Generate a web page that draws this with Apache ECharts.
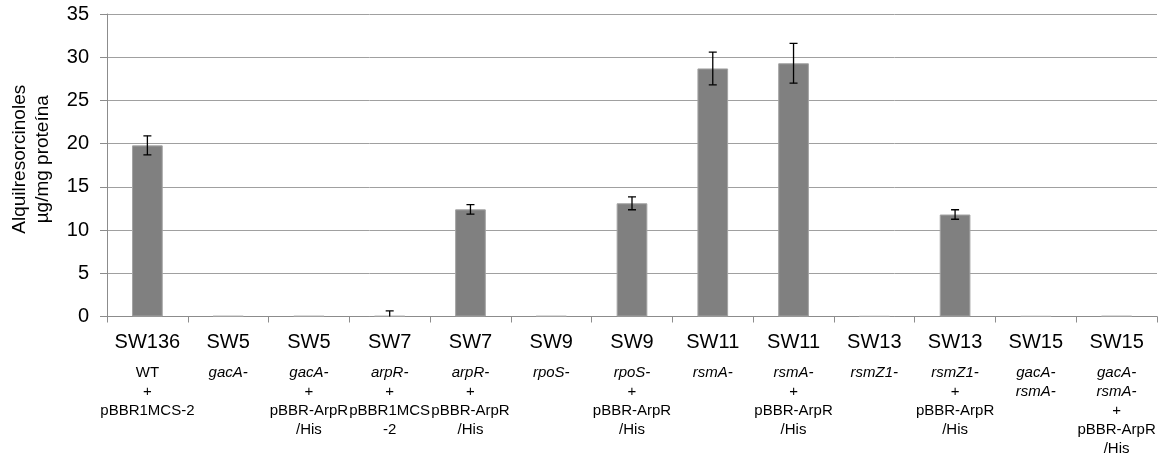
<!DOCTYPE html>
<html>
<head>
<meta charset="utf-8">
<script src="https://cdn.jsdelivr.net/npm/echarts@6/dist/echarts.min.js"></script>
<style>
  html, body { margin: 0; padding: 0; background: #fff; }
  #chart { width: 1163px; height: 454px; }
</style>
</head>
<body>
<div id="chart"></div>
<script>
// Strain names (first label line)
const strains = ['SW136', 'SW5', 'SW5', 'SW7', 'SW7', 'SW9', 'SW9', 'SW11', 'SW11', 'SW13', 'SW13', 'SW15', 'SW15'];
// Genotype lines (italic gene names; WT is upright)
const genotypes = [['WT'], ['gacA-'], ['gacA-'], ['arpR-'], ['arpR-'], ['rpoS-'], ['rpoS-'], ['rsmA-'], ['rsmA-'], ['rsmZ1-'], ['rsmZ1-'], ['gacA-', 'rsmA-'], ['gacA-', 'rsmA-']];
// Complementing plasmid lines (empty when none)
const plasmids = [['pBBR1MCS-2'], [], ['pBBR-ArpR', '/His'], ['pBBR1MCS', '-2'], ['pBBR-ArpR', '/His'], [], ['pBBR-ArpR', '/His'], [], ['pBBR-ArpR', '/His'], [], ['pBBR-ArpR', '/His'], [], ['pBBR-ArpR', '/His']];
// Alkylresorcinols, µg/mg protein
const values = [19.8, 0.05, 0.05, 0.05, 12.4, 0.05, 13.1, 28.7, 29.3, 0.02, 11.8, 0.02, 0.05];
// Standard deviation
const errors = [1.1, 0, 0, 0.6, 0.55, 0, 0.75, 1.9, 2.3, 0, 0.55, 0, 0];
// Y-axis ticks
const yMin = 0, yMax = 35, yStep = 5;

const categories = strains.map((s, i) => String(i));

function labelFor(idx) {
  const i = Number(idx);
  const lines = ['{t|' + strains[i] + '}'];
  genotypes[i].forEach(g => lines.push(g === 'WT' ? '{n|' + g + '}' : '{g|' + g + '}'));
  if (plasmids[i].length) {
    lines.push('{n|+}');
    plasmids[i].forEach(p => lines.push('{n|' + p + '}'));
  }
  return lines.join('\n');
}

const FONT = '"Liberation Sans", Arial, sans-serif';
const chart = echarts.init(document.getElementById('chart'), null, { renderer: 'canvas' });

chart.setOption({
  animation: false,
  backgroundColor: '#ffffff',
  grid: { left: 107, right: 6, top: 14, bottom: 137.5, containLabel: false, outerBoundsMode: 'none' },
  xAxis: {
    type: 'category',
    data: categories,
    boundaryGap: true,
    axisLine: { lineStyle: { color: '#8c8c8c', width: 1 } },
    axisTick: { show: true, length: 6, alignWithLabel: false, lineStyle: { color: '#8c8c8c' } },
    axisLabel: {
      interval: 0,
      margin: 4,
      formatter: labelFor,
      color: '#000',
      fontFamily: FONT,
      rich: {
        t: { fontSize: 20, lineHeight: 43, fontFamily: FONT, color: '#000' },
        g: { fontSize: 15, lineHeight: 19, fontStyle: 'italic', fontFamily: FONT, color: '#000' },
        n: { fontSize: 15, lineHeight: 19, fontFamily: FONT, color: '#000' }
      }
    }
  },
  yAxis: {
    type: 'value',
    min: yMin,
    max: yMax,
    interval: yStep,
    name: '{a|Alquilresorcinoles}\n{a|µg/mg proteína}',
    nameLocation: 'middle',
    nameRotate: 90,
    nameGap: 53,
    nameTextStyle: {
      padding: [0, 0, 0, 12],
      rich: { a: { fontSize: 19, lineHeight: 23, fontFamily: FONT, color: '#000' } }
    },
    axisLine: { show: true, lineStyle: { color: '#8c8c8c', width: 1 } },
    axisTick: { show: true, length: 7, inside: false, lineStyle: { color: '#8c8c8c' } },
    axisLabel: { margin: 18, fontSize: 20, fontFamily: FONT, color: '#000' },
    splitLine: { show: true, lineStyle: { color: '#a0a0a0', width: 1 } }
  },
  series: [
    {
      type: 'bar',
      data: values,
      barWidth: '38%',
      itemStyle: { color: '#808080', borderColor: '#a3a3a3', borderWidth: 1 },
      z: 2
    },
    {
      type: 'custom',
      clip: true,
      z: 3,
      data: values.map((v, i) => [i, v, errors[i]]),
      renderItem: function (params, api) {
        const i = api.value(0), v = api.value(1), e = api.value(2);
        if (!e) return null;
        const top = api.coord([i, v + e]);
        const bot = api.coord([i, v - e]);
        const half = 4;
        const style = { stroke: '#000', lineWidth: 1.3 };
        return {
          type: 'group',
          children: [
            { type: 'line', shape: { x1: top[0], y1: top[1], x2: bot[0], y2: bot[1] }, style: style },
            { type: 'line', shape: { x1: top[0] - half, y1: top[1], x2: top[0] + half, y2: top[1] }, style: style },
            { type: 'line', shape: { x1: bot[0] - half, y1: bot[1], x2: bot[0] + half, y2: bot[1] }, style: style }
          ]
        };
      }
    }
  ]
});
</script>
</body>
</html>
